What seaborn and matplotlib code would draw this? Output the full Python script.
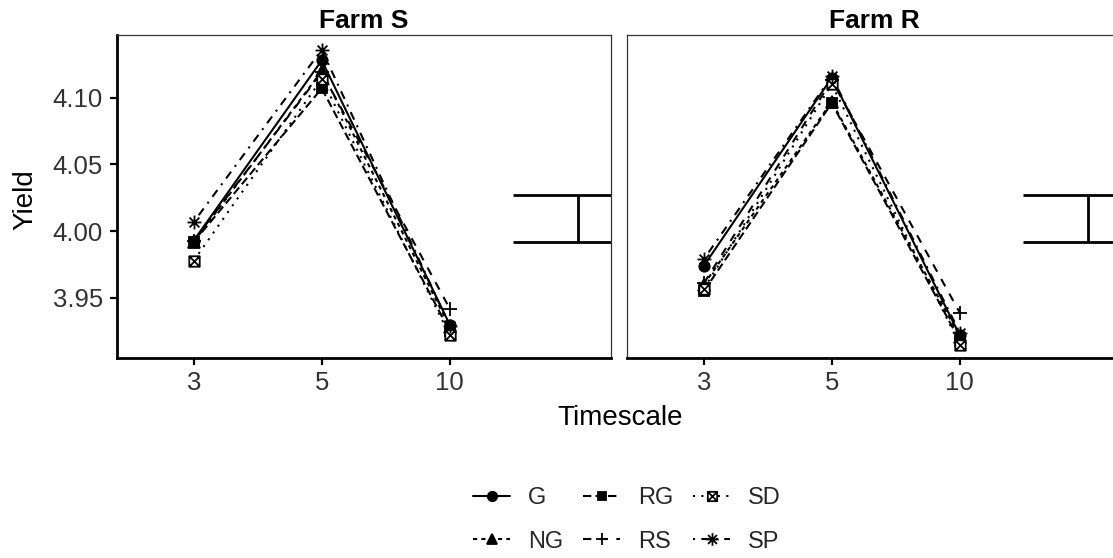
import numpy as np
import pandas as pd
import matplotlib
matplotlib.use("Agg")
import matplotlib.pyplot as plt
from matplotlib.path import Path
import seaborn as sns

# ---- data -------------------------------------------------------------
timescales = ["3", "5", "10"]
groups = ["G", "NG", "RG", "RS", "SD", "SP"]
farms = ["Farm S", "Farm R"]

farm_s = {
    "G":  [3.993, 4.128, 3.930],
    "NG": [3.992, 4.120, 3.928],
    "RG": [3.992, 4.107, 3.925],
    "RS": [3.993, 4.119, 3.942],
    "SD": [3.978, 4.114, 3.922],
    "SP": [4.007, 4.136, 3.929],
}
farm_r = {
    "G":  [3.974, 4.115, 3.922],
    "NG": [3.960, 4.097, 3.921],
    "RG": [3.955, 4.096, 3.918],
    "RS": [3.961, 4.113, 3.939],
    "SD": [3.957, 4.110, 3.915],
    "SP": [3.979, 4.116, 3.924],
}

# least significant difference bar drawn beside each panel
lsd_low = 3.992
lsd_high = 4.027

rows = []
for farm, table in zip(farms, [farm_s, farm_r]):
    for g in groups:
        for i, (t, v) in enumerate(zip(timescales, table[g])):
            rows.append({"Farm": farm, "Group": g, "Timescale": t,
                         "pos": i, "Yield": v})
df = pd.DataFrame(rows)

# ---- marker shapes ----------------------------------------------------
M, L = Path.MOVETO, Path.LINETO
box_x = Path([(-1, -1), (1, -1), (1, 1), (-1, 1), (-1, -1),
              (-1, -1), (1, 1), (1, -1), (-1, 1)],
             [M, L, L, L, Path.CLOSEPOLY, M, L, M, L])
plus = Path([(-1, 0), (1, 0), (0, -1), (0, 1)], [M, L, M, L])
d = np.sqrt(0.5)
star = Path([(-1, 0), (1, 0), (0, -1), (0, 1), (-d, -d), (d, d), (-d, d), (d, -d)],
            [M, L, M, L, M, L, M, L])

markers = {"G": "o", "NG": "^", "RG": "s", "RS": plus, "SD": box_x, "SP": star}
dashes = {"G": "", "NG": (2, 2), "RG": (4, 2), "RS": (4, 4),
          "SD": (1, 3), "SP": (1, 3, 4, 3)}
msizes = {"G": 7.5, "NG": 8, "RG": 7, "RS": 10, "SD": 7.5, "SP": 10}
faces = {"G": "black", "NG": "black", "RG": "black", "RS": "none",
         "SD": "white", "SP": "none"}

# ---- styling ----------------------------------------------------------
sns.set_style("white")
plt.rcParams["font.family"] = ["Liberation Sans", "DejaVu Sans"]

W, H = 1113, 558
fig = plt.figure(figsize=(W / 100, H / 100), dpi=100)
ax_w = 494 / W
ax_h = 323 / H
ax_b = 1 - 358 / H
axes = [fig.add_axes([117 / W, ax_b, ax_w, ax_h]),
        fig.add_axes([627 / W, ax_b, ax_w, ax_h])]

tick_col = "#333333"
handles = labels = None
for k, (ax, farm) in enumerate(zip(axes, farms)):
    sub = df[df["Farm"] == farm]
    sns.lineplot(data=sub, x="pos", y="Yield", style="Group",
                 style_order=groups, markers=markers, dashes=dashes,
                 color="black", linewidth=1.5, markersize=8,
                 markeredgecolor="black", ax=ax, legend=(k == 0))

    # per-marker finishing: sizes and open shapes
    for line, g in zip(ax.lines, groups):
        line.set_markersize(msizes[g])
        line.set_markeredgewidth(1.3)
        line.set_markeredgecolor("black")
        line.set_markerfacecolor(faces[g])

    ax.errorbar([len(timescales)], [(lsd_low + lsd_high) / 2],
                yerr=[(lsd_high - lsd_low) / 2], color="black",
                capsize=47, capthick=2, elinewidth=2, fmt="none")

    ax.set_xlim(-0.6, 3.26)
    ax.set_ylim(3.905, 4.147)
    ax.set_xticks(range(len(timescales)))
    ax.set_xticklabels(timescales)
    ax.set_yticks([3.95, 4.00, 4.05, 4.10])
    ax.set_xlabel("")
    ax.set_ylabel("")
    ax.set_title(farm, fontsize=19, fontweight="bold", pad=5, color="black")

    for side in ["top", "right", "left"]:
        ax.spines[side].set_visible(True)
        ax.spines[side].set_color("#333333")
        ax.spines[side].set_linewidth(0.9)
    ax.spines["bottom"].set_color("black")
    ax.spines["bottom"].set_linewidth(2)
    ax.tick_params(axis="x", length=5, width=1.6, color="black",
                   labelsize=18.5, labelcolor=tick_col, pad=4, bottom=True)
    if k == 0:
        ax.spines["left"].set_color("black")
        ax.spines["left"].set_linewidth(2)
        ax.tick_params(axis="y", length=5, width=1.6, color="black",
                       labelsize=18.5, labelcolor=tick_col, pad=5, left=True)
        ax.set_yticklabels(["3.95", "4.00", "4.05", "4.10"])
        handles, labels = ax.get_legend_handles_labels()
        ax.get_legend().remove()
    else:
        ax.tick_params(axis="y", left=False, labelleft=False)

fig.text(620 / W, 1 - 418 / H, "Timescale", ha="center", va="center",
         fontsize=20, color="black")
fig.text(25 / W, 1 - 200 / H, "Yield", ha="center", va="center",
         rotation=90, fontsize=20, color="black")

# legend laid out as two rows of three
for h, g in zip(handles, labels):
    if g in msizes:
        h.set_markersize(msizes[g] * 0.9)
        h.set_markeredgewidth(1.3)
        h.set_color("black")
        h.set_markeredgecolor("black")
        h.set_markerfacecolor(faces[g])
pairs = [(h, l) for h, l in zip(handles, labels) if l in groups]
fig.legend([p[0] for p in pairs], [p[1] for p in pairs], ncol=3,
           loc="center", bbox_to_anchor=(627 / W, 1 - 520 / H),
           frameon=False, fontsize=17, handlelength=1.57, handletextpad=0.75,
           columnspacing=0.85, labelspacing=0.9)

fig.savefig("out.png", dpi=100)
